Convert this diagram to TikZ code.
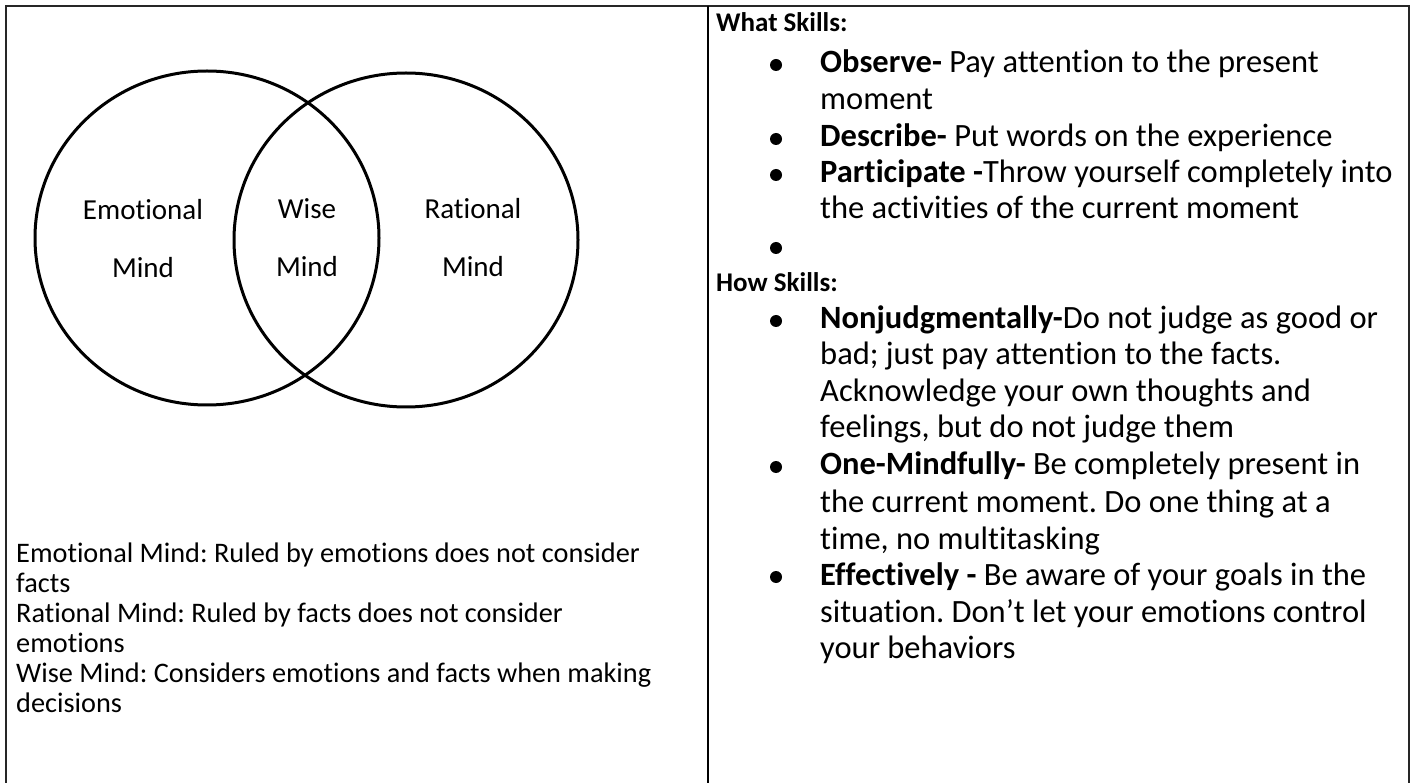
\documentclass[tikz,border=0pt]{standalone}
\usepackage{fontspec}
\setmainfont{Carlito}[Ligatures=NoCommon]
\usetikzlibrary{shapes.geometric}
\frenchspacing
\begin{document}
\begin{tikzpicture}[x=1pt,y=-1pt,
  txt/.style={anchor=base west, inner sep=0pt, font=\fontsize{28.3}{34}\selectfont},
  head/.style={anchor=base west, inner sep=0pt, font=\fontsize{27}{34}\selectfont\bfseries},
  item/.style={anchor=base west, inner sep=0pt, font=\fontsize{32.5}{38}\selectfont},
  lbl/.style={anchor=base, inner sep=0pt, font=\fontsize{29}{35}\selectfont},
  bul/.style={circle, fill=black, inner sep=0pt, minimum size=12pt},
  frame/.style={line width=2pt, draw=black!85},
  divider/.style={line width=1.5pt, draw=black},
  ring/.style={ellipse, line width=3pt, draw=black, inner sep=0pt,
    minimum width=344pt, minimum height=334pt}]
\useasboundingbox (0,0) rectangle (1414,783);

% table frame (open at the bottom) and column divider
\coordinate (bl) at (6,783);
\coordinate (tl) at (6,6);
\coordinate (tr) at (1409,6);
\coordinate (br) at (1409,783);
\coordinate (dt) at (708,6);
\coordinate (db) at (708,783);
\draw[frame] (bl) -- (tl) -- (tr) -- (br);
\draw[divider] (dt) -- (db);

% Venn diagram
\node[ring] (emo) at (207,238) {};
\node[ring] (rat) at (406,240) {};
\node[lbl] (emo1) at (143,220) {Emotional};
\node[lbl] (emo2) at (143,278) {Mind};
\node[lbl] (wise1) at (307,219) {Wise};
\node[lbl] (wise2) at (307,277) {Mind};
\node[lbl] (rat1) at (473,219) {Rational};
\node[lbl] (rat2) at (473,277) {Mind};

% definitions under the diagram
\node[txt] (d1) at (16,562) {Emotional Mind: Ruled by emotions does not consider};
\node[txt] (d2) at (16,592) {facts};
\node[txt] (d3) at (16,622) {Rational Mind: Ruled by facts does not consider};
\node[txt] (d4) at (16,652) {emotions};
\node[txt] (d5) at (16,682) {Wise Mind: Considers emotions and facts when making};
\node[txt] (d6) at (16,712) {decisions};

% right column
\node[head] (h1) at (716,32) {What Skills:};
\node[bul] (b1) at (776,65) {};
\node[item] (r1) at (820,73) {\textbf{Observe-} Pay attention to the present};
\node[item] (r2) at (820,110) {moment};
\node[bul] (b2) at (776,139) {};
\node[item] (r3) at (820,147) {\textbf{Describe-} Put words on the experience};
\node[bul] (b3) at (776,175) {};
\node[item] (r4) at (820,183) {\textbf{Participate -}Throw yourself completely into};
\node[item] (r5) at (820,219) {the activities of the current moment};
\node[bul] (b4) at (776,248) {};
\node[head] (h2) at (716,292) {How Skills:};
\node[bul] (b5) at (776,321) {};
\node[item] (r6) at (820,329) {\textbf{Nonjudgmentally-}Do not judge as good or};
\node[item] (r7) at (820,365) {bad; just pay attention to the facts.};
\node[item] (r8) at (820,402) {Acknowledge your own thoughts and};
\node[item] (r9) at (820,438) {feelings, but do not judge them};
\node[bul] (b6) at (776,467) {};
\node[item] (r10) at (820,475) {\textbf{One-Mindfully-} Be completely present in};
\node[item] (r11) at (820,512) {the current moment. Do one thing at a};
\node[item] (r12) at (820,549) {time, no multitasking};
\node[bul] (b7) at (776,577) {};
\node[item] (r13) at (820,585) {\textbf{Effectively -} Be aware of your goals in the};
\node[item] (r14) at (820,622) {situation. Don’t let your emotions control};
\node[item] (r15) at (820,658) {your behaviors};
\end{tikzpicture}
\end{document}
